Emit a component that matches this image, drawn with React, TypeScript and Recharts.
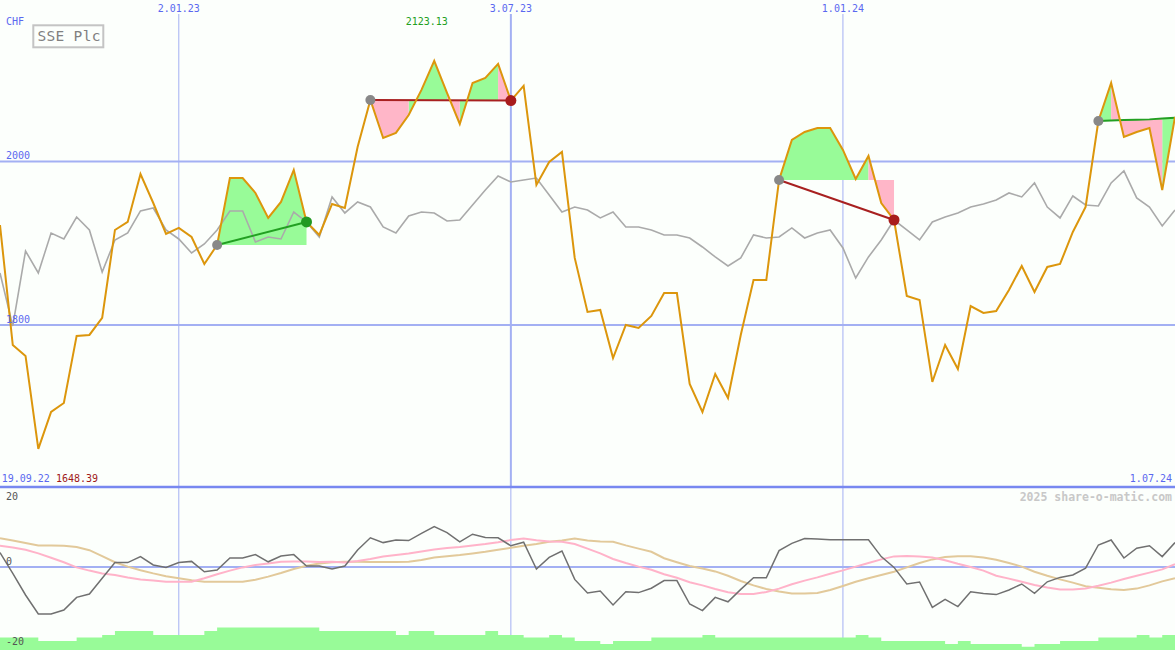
import React from 'react';
import {
  ComposedChart,
  Line,
  Area,
  XAxis,
  YAxis,
  CartesianGrid,
  ReferenceLine,
  ReferenceDot,
} from 'recharts';

// weekly closes in CHF
const closes = [
  1922.3, 1775.5, 1762.1, 1648.39, 1693.6, 1704.6, 1786.6, 1787.8, 1808.6, 1916.2,
  1926.0, 1984.7, 1949.2, 1911.3, 1918.7, 1907.6, 1874.6, 1897.9, 1979.8, 1979.8,
  1961.5, 1930.9, 1950.5, 1989.6, 1926.0, 1910.1, 1948.0, 1943.1, 2017.7, 2075.2,
  2028.7, 2034.9, 2056.9, 2087.5, 2123.13, 2083.8, 2045.9, 2096.0, 2102.1, 2119.3,
  2074.5, 2092.4, 1971.3, 1999.4, 2011.6, 1882.0, 1815.9, 1818.4, 1759.6, 1800.0,
  1796.3, 1811.0, 1839.1, 1839.1, 1727.8, 1693.6, 1740.1, 1710.7, 1787.8, 1855.0,
  1855.0, 1977.4, 2026.3, 2036.1, 2041.0, 2041.0, 2014.1, 1978.6, 2006.7, 1949.2,
  1928.4, 1835.5, 1830.6, 1730.3, 1775.5, 1746.2, 1823.2, 1814.7, 1817.1, 1842.8,
  1872.2, 1840.4, 1871.0, 1874.6, 1913.8, 1944.3, 2049.5, 2096.0, 2030.0, 2036.1,
  2041.0, 1965.1, 2054.5,
];

// comparison index, rescaled to the price
const benchmark = [
  1863.6, 1798.8, 1890.5, 1863.6, 1912.5, 1905.2, 1932.1, 1916.2, 1864.8, 1904.0,
  1912.5, 1939.5, 1943.1, 1916.2, 1905.2, 1888.1, 1899.1, 1916.2, 1939.5, 1939.5,
  1901.5, 1907.6, 1905.2, 1938.2, 1926.0, 1907.6, 1956.6, 1937.0, 1950.5, 1944.3,
  1919.9, 1912.5, 1933.3, 1938.2, 1937.0, 1927.2, 1928.4, 1946.8, 1965.1, 1982.3,
  1974.9, 1977.4, 1979.8, 1959.0, 1938.2, 1944.3, 1940.7, 1930.9, 1938.2, 1919.9,
  1919.9, 1916.2, 1910.1, 1910.1, 1906.4, 1895.4, 1883.2, 1872.2, 1882.0, 1910.1,
  1906.4, 1907.6, 1918.7, 1906.4, 1912.5, 1916.2, 1894.2, 1857.5, 1883.2, 1904.0,
  1928.4, 1916.2, 1904.0, 1926.0, 1932.1, 1937.0, 1944.3, 1948.0, 1952.9, 1961.5,
  1956.6, 1973.7, 1944.3, 1930.9, 1957.8, 1946.8, 1945.6, 1973.7, 1988.4, 1955.4,
  1944.3, 1921.1, 1940.7,
];

const momentum = [
  3.6, -1.6, -7.0, -11.75, -11.75, -10.75, -7.6, -6.75, -2.8, 1.1,
  1.1, 2.6, 0.5, -0.1, 1.1, 1.4, -1.2, -0.75, 2.25, 2.25,
  3.1, 1.3, 2.75, 3.1, 0.25, 0.25, -0.5, 0.25, 4.25, 7.3,
  6.1, 6.75, 6.6, 8.4, 10.1, 8.6, 6.3, 8.2, 7.4, 7.3,
  5.3, 6.2, -0.5, 2.4, 4.0, -3.1, -6.5, -6.0, -9.5, -6.2,
  -6.4, -5.3, -3.4, -3.4, -9.25, -10.9, -7.6, -8.7, -5.6, -2.7,
  -2.7, 4.1, 5.9, 7.1, 7.0, 6.8, 6.8, 6.8, 6.8, 2.6,
  -0.1, -4.25, -3.75, -10.1, -8.1, -9.9, -6.2, -6.6, -6.9, -5.75,
  -4.25, -6.6, -3.7, -2.6, -2.0, -0.3, 5.5, 6.75, 2.25, 4.7,
  5.3, 2.6, 6.1,
];

const fastAvg = [
  5.3, 4.9, 4.3, 3.4, 2.3, 1.2, -0.1, -0.9, -1.6, -2.0,
  -2.6, -3.1, -3.4, -3.7, -3.7, -3.7, -2.8, -1.8, -0.9, -0.1,
  0.5, 0.9, 1.3, 1.35, 1.4, 1.25, 1.3, 1.1, 1.5, 2.0,
  2.6, 3.0, 3.4, 3.9, 4.4, 4.75, 5.0, 5.4, 5.75, 6.2,
  6.75, 7.1, 6.7, 6.4, 6.3, 5.75, 4.6, 3.4, 2.0, 1.0,
  0.1, -0.7, -1.8, -2.7, -3.8, -4.6, -5.5, -6.3, -6.75, -6.75,
  -6.25, -5.4, -4.3, -3.4, -2.6, -1.7, -0.85, 0.1, 1.0, 1.9,
  2.65, 2.75, 2.6, 2.35, 1.7, 0.8, 0.0, -0.9, -2.2, -2.9,
  -3.7, -4.5, -5.1, -5.6, -5.6, -5.4, -4.7, -3.9, -3.0, -2.2,
  -1.4, -0.6, 0.7,
];

const slowAvg = [
  7.2, 6.6, 6.0, 5.4, 5.35, 5.3, 5.0, 4.2, 2.7, 1.2,
  0.1, -0.8, -1.6, -2.3, -2.8, -3.3, -3.7, -3.7, -3.7, -3.7,
  -3.2, -2.4, -1.5, -0.5, 0.3, 0.85, 1.2, 1.3, 1.3, 1.25,
  1.25, 1.25, 1.3, 1.75, 2.4, 2.7, 3.0, 3.4, 3.8, 4.3,
  4.8, 5.3, 5.75, 6.3, 6.6, 7.1, 6.6, 6.4, 6.3, 5.4,
  4.6, 3.8, 2.2, 1.2, 0.25, -0.4, -1.1, -2.2, -3.5, -4.6,
  -5.5, -6.1, -6.6, -6.6, -6.5, -5.75, -4.75, -3.7, -2.8, -2.0,
  -1.2, -0.1, 1.0, 1.9, 2.5, 2.7, 2.7, 2.4, 1.8, 1.0,
  0.1, -1.2, -2.2, -3.1, -3.9, -4.8, -5.2, -5.55, -5.75, -5.4,
  -4.6, -3.6, -2.8,
];

const volume = [
  3.1, 3.1, 3.1, 2.25, 2.25, 2.25, 3.1, 3.1, 3.75, 4.75,
  4.75, 4.75, 3.75, 3.75, 3.75, 3.75, 4.75, 5.6, 5.6, 5.6,
  5.6, 5.6, 5.6, 5.6, 5.6, 4.75, 4.75, 4.75, 4.75, 4.75,
  4.75, 3.75, 4.75, 4.75, 3.75, 3.75, 3.75, 3.75, 4.75, 3.75,
  3.75, 3.1, 3.1, 3.75, 3.1, 2.25, 2.25, 1.5, 2.25, 2.25,
  2.25, 3.1, 3.1, 3.1, 3.1, 3.75, 3.1, 3.1, 3.1, 3.1,
  3.1, 3.1, 3.1, 3.1, 3.1, 3.1, 3.1, 3.75, 3.1, 2.25,
  2.25, 2.25, 2.25, 2.25, 1.5, 2.25, 1.5, 1.5, 1.5, 1.5,
  0.8, 1.5, 1.5, 2.25, 2.25, 2.25, 3.1, 3.1, 3.1, 3.75,
  3.1, 3.75, 3.75,
];

const firstDate = '19.09.22';
const lastDate = '1.07.24';
const dateTicks = [14, 40, 66];
const dateLabels = ['2.01.23', '3.07.23', '1.01.24'];
const priceTicks = [1800, 2000];
const oscTicks = [-20, 0, 20];

// trades: index of entry and exit week (-1 = still open)
const trades = [
  { entry: 17, exit: 24 },
  { entry: 29, exit: 40 },
  { entry: 61, exit: 70 },
  { entry: 86, exit: -1 },
];
// trailing line of the open trade
const openStop = [2049.5, 2050.0, 2050.6, 2051.0, 2051.5, 2052.5, 2053.6];

const BLUE = '#5a68f0';
const GRID = '#a3b0f3';
const FONT = "'DejaVu Sans Mono', monospace";
const GAIN_FILL = '#98fb98';
const LOSS_FILL = '#ffb6c8';
const GAIN_LINE = '#22a022';
const LOSS_LINE = '#a82020';

const lastIdx = closes.length - 1;

const rows: Record<string, any>[] = closes.map((close, i) => ({
  i,
  close,
  bench: benchmark[i],
  mom: momentum[i],
  fast: fastAvg[i],
  slow: slowAvg[i],
  vol: volume[i],
}));

const tradeInfo: { entry: number; end: number; win: boolean; open: boolean }[] = [];
const runCount: Record<string, number> = { g: 0, p: 0 };

trades.forEach((t, ti) => {
  const open = t.exit < 0;
  const end = open ? lastIdx : t.exit;
  const base = (k: number) => (open ? openStop[k - t.entry] : closes[t.entry]);
  const side = (k: number) => (closes[k] >= base(k) ? 'g' : 'p');
  const key = `trade${ti}`;
  if (open) {
    for (let k = t.entry; k <= end; k++) rows[k][key] = openStop[k - t.entry];
  } else {
    rows[t.entry][key] = closes[t.entry];
    rows[end][key] = closes[end];
  }
  tradeInfo.push({ entry: t.entry, end, open, win: closes[end] > base(end) || (!open && closes[end] > closes[t.entry]) });

  // fill each run of same-coloured segments between price and entry level
  let k = t.entry;
  while (k < end) {
    const col = side(k + 1);
    let e = k + 1;
    while (e < end && side(e + 1) === col) e++;
    const fk = col + (runCount[col]++ % 2);
    for (let j = k; j <= e; j++) rows[j][fk] = [base(j), closes[j]];
    k = e;
  }
});

const maxClose = Math.max(...closes);
const minClose = Math.min(...closes);

const PriceTick = (props: any) => (
  <text x={6} y={props.y - 2} fill={BLUE} fontSize={10} fontFamily={FONT}>
    {props.payload.value}
  </text>
);

const OscTick = (props: any) => {
  const v = props.payload.value;
  return (
    <text x={6} y={v === 20 ? props.y + 13 : props.y - 2} fill="#555" fontSize={10} fontFamily={FONT}>
      {v}
    </text>
  );
};

const App = () => {
  return (
    <div
      style={{
        position: 'absolute',
        left: 0,
        top: 0,
        width: 1175,
        height: 650,
        background: '#fcfffc',
        overflow: 'hidden',
      }}
    >
      <div style={{ position: 'absolute', left: 0, top: 0 }}>
        <ComposedChart width={1175} height={487} data={rows} margin={{ top: 0, right: 0, bottom: 0, left: 0 }}>
          <CartesianGrid vertical={false} horizontalValues={priceTicks} syncWithTicks stroke={GRID} strokeWidth={2} />
          <CartesianGrid horizontal={false} verticalValues={[14, 66]} syncWithTicks stroke={GRID} strokeWidth={1} />
          <CartesianGrid horizontal={false} verticalValues={[40]} syncWithTicks stroke={GRID} strokeWidth={2} />
          <XAxis
            dataKey="i"
            type="number"
            domain={[0, lastIdx]}
            orientation="top"
            height={14}
            ticks={dateTicks}
            interval={0}
            tickFormatter={(v: number) => dateLabels[dateTicks.indexOf(v)]}
            axisLine={false}
            tickLine={false}
            tickSize={0}
            tickMargin={2}
            tick={{ fill: BLUE, fontSize: 10, fontFamily: FONT }}
            allowDataOverflow
          />
          <YAxis
            type="number"
            domain={[1601.8, 2180.4]}
            ticks={priceTicks}
            interval={0}
            mirror
            axisLine={false}
            tickLine={false}
            tick={PriceTick}
            allowDataOverflow
          />
          {['g0', 'g1', 'p0', 'p1'].map((k) => (
            <Area
              key={k}
              dataKey={k}
              type="linear"
              stroke="none"
              fill={k[0] === 'g' ? GAIN_FILL : LOSS_FILL}
              fillOpacity={1}
              dot={false}
              activeDot={false}
              isAnimationActive={false}
            />
          ))}
          <Line dataKey="bench" stroke="#aaaaaa" strokeWidth={1.6} dot={false} activeDot={false} isAnimationActive={false} />
          {tradeInfo.map((t, ti) => (
            <Line
              key={ti}
              dataKey={`trade${ti}`}
              stroke={t.win ? GAIN_LINE : LOSS_LINE}
              strokeWidth={2}
              dot={false}
              activeDot={false}
              connectNulls
              isAnimationActive={false}
            />
          ))}
          {tradeInfo.map((t, ti) => (
            <ReferenceDot key={`in${ti}`} x={t.entry} y={closes[t.entry]} r={5} fill="#888888" stroke="none" />
          ))}
          {tradeInfo
            .filter((t) => !t.open)
            .map((t, ti) => (
              <ReferenceDot
                key={`out${ti}`}
                x={t.end}
                y={closes[t.end]}
                r={5.5}
                fill={t.win ? '#229922' : '#a81c1c'}
                stroke="none"
              />
            ))}
          <Line dataKey="close" stroke="#dc960c" strokeWidth={2} dot={false} activeDot={false} isAnimationActive={false} />
        </ComposedChart>
      </div>

      {/* lower panel, bars layer */}
      <div style={{ position: 'absolute', left: 0, top: 485 }}>
        <ComposedChart width={1175} height={165} data={rows} margin={{ top: 2, right: 0, bottom: 0, left: 0 }}>
          <CartesianGrid horizontal={false} verticalValues={dateTicks} syncWithTicks stroke={GRID} strokeWidth={1} />
          <XAxis dataKey="i" type="number" domain={[0, lastIdx]} ticks={dateTicks} hide allowDataOverflow />
          <YAxis type="number" domain={[0, 40.75]} hide allowDataOverflow />
          <Area
            dataKey="vol"
            type="stepAfter"
            stroke="none"
            fill={GAIN_FILL}
            fillOpacity={1}
            baseValue={0}
            dot={false}
            activeDot={false}
            isAnimationActive={false}
          />
        </ComposedChart>
      </div>

      {/* lower panel, oscillator layer */}
      <div style={{ position: 'absolute', left: 0, top: 485 }}>
        <ComposedChart width={1175} height={165} data={rows} margin={{ top: 2, right: 0, bottom: 0, left: 0 }}>
          <CartesianGrid vertical={false} horizontalValues={[0]} syncWithTicks stroke={GRID} strokeWidth={2} />
          <XAxis dataKey="i" type="number" domain={[0, lastIdx]} hide allowDataOverflow />
          <YAxis
            type="number"
            domain={[-20.75, 20]}
            ticks={oscTicks}
            interval={0}
            mirror
            axisLine={false}
            tickLine={false}
            tick={OscTick}
            allowDataOverflow
          />
          <Line dataKey="slow" stroke="#e2c99a" strokeWidth={2} dot={false} activeDot={false} isAnimationActive={false} />
          <Line dataKey="fast" stroke="#ffb3c9" strokeWidth={2} dot={false} activeDot={false} isAnimationActive={false} />
          <Line dataKey="mom" stroke="#707070" strokeWidth={1.5} dot={false} activeDot={false} isAnimationActive={false} />
          <ReferenceLine y={20} stroke="#7888f0" strokeWidth={2.5} />
        </ComposedChart>
      </div>

      <svg
        width={1175}
        height={650}
        style={{ position: 'absolute', left: 0, top: 0, pointerEvents: 'none' }}
        fontFamily={FONT}
      >
        <text x={6} y={25} fill={BLUE} fontSize={10}>CHF</text>
        <rect x={33.3} y={25.3} width={70} height={22} fill="none" stroke="#c4c4c4" strokeWidth={2} />
        <text x={37.5} y={41.3} fill="#808080" fontSize={14.5} letterSpacing={0.3}>SSE Plc</text>
        <text x={405.7} y={25} fill={GAIN_LINE} fontSize={10}>{maxClose.toFixed(2)}</text>
        <text x={1.7} y={482.3} fill={BLUE} fontSize={10}>{firstDate}</text>
        <text x={56} y={482.3} fill="#a01818" fontSize={10}>{minClose.toFixed(2)}</text>
        <text x={1172} y={482.3} fill={BLUE} fontSize={10} textAnchor="end">{lastDate}</text>
        <text x={1172} y={500.5} fill="#c8c8c8" fontSize={11.5} fontWeight="bold" textAnchor="end">
          2025 share-o-matic.com
        </text>
      </svg>
    </div>
  );
};

export default App;
